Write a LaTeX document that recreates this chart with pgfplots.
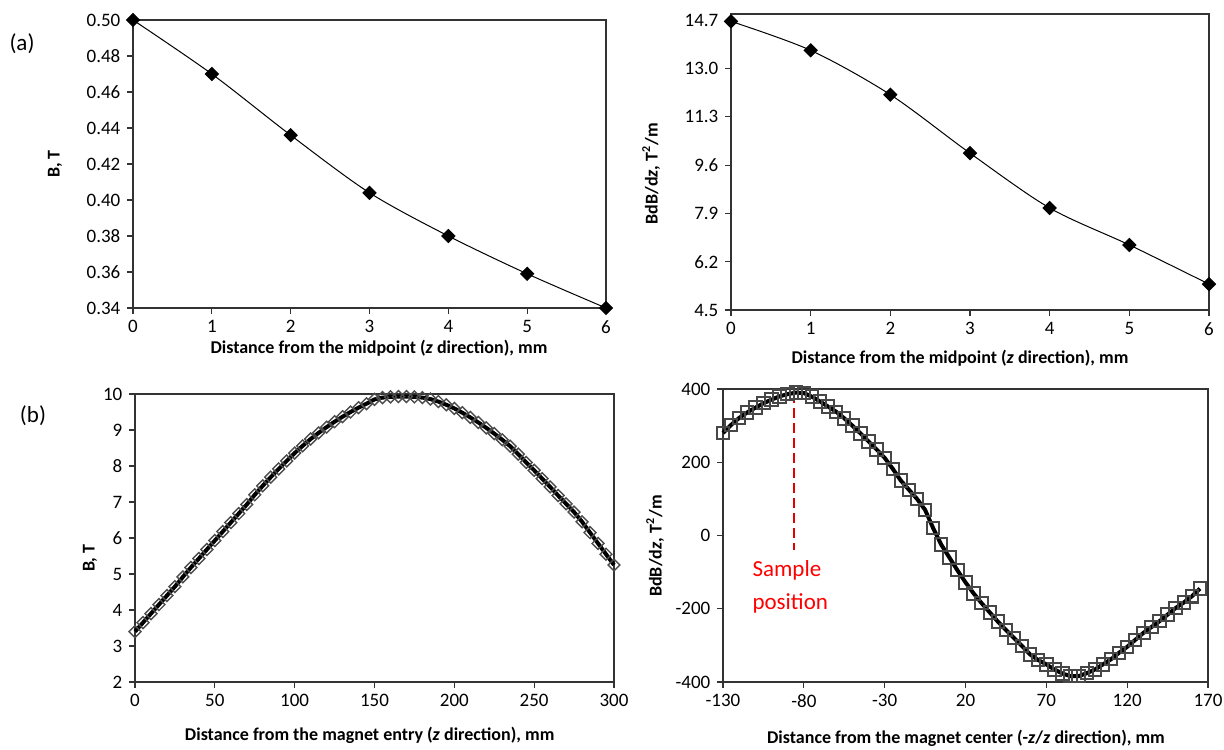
\documentclass[border=0pt]{standalone}
\usepackage{fontspec}
\setmainfont{Carlito}
\usepackage{pgfplots}
\pgfplotsset{compat=1.18}

\pgfplotsset{
  panel/.style={
    scale only axis, clip=false,
    axis line style={black!80, line width=0.6pt},
    tick align=outside, xtick pos=lower, ytick pos=left,
    major tick length=2.8pt,
    tick style={black!80, line width=0.6pt},
    ticklabel style={font=\fontsize{9.5}{11}\selectfont},
    label style={font=\bfseries\fontsize{9}{11}\selectfont},
    xlabel style={anchor=center}, ylabel style={anchor=center},
  },
  fmark/.style={black, line width=0.5pt, smooth, mark=square*, mark size=2.3pt,
    mark options={rotate=45, solid, fill=black}},
}

\begin{document}
\begin{tikzpicture}
\useasboundingbox (0,0) rectangle (612pt,374.5pt);

% (a) left: B vs distance from midpoint
\begin{axis}[panel, at={(66.5pt,220.5pt)}, anchor=south west,
  width=236.5pt, height=144pt,
  xmin=0, xmax=6, ymin=0.34, ymax=0.50,
  xtick={0,1,2,3,4,5,6},
  ytick={0.34,0.36,0.38,0.40,0.42,0.44,0.46,0.48,0.50},
  yticklabels={0.34,0.36,0.38,0.40,0.42,0.44,0.46,0.48,0.50},
  xticklabels={0,1,2,3,4,5,6},
  xlabel={Distance from the midpoint (\textit{z} direction), mm},
  ylabel={B, T},
  xlabel style={at={(axis description cs:0.52,-0.139)}},
  ylabel style={at={(axis description cs:-0.165,0.5)}}]
\addplot[fmark] coordinates {
  (0,0.500)(1,0.470)(2,0.436)(3,0.404)(4,0.380)(5,0.359)(6,0.340)};
\end{axis}

% (a) right: BdB/dz vs distance from midpoint
\begin{axis}[panel, at={(365.5pt,219.5pt)}, anchor=south west,
  width=239pt, height=148pt,
  xmin=0, xmax=6, ymin=4.5, ymax=14.92,
  xtick={0,1,2,3,4,5,6},
  xticklabels={0,1,2,3,4,5,6},
  ytick={4.5,6.2,7.9,9.6,11.3,13.0,14.7},
  yticklabels={4.5,6.2,7.9,9.6,11.3,13.0,14.7},
  xlabel={Distance from the midpoint (\textit{z} direction), mm},
  ylabel={BdB/d\textit{z}, T\textsuperscript{2}/m},
  xlabel style={at={(axis description cs:0.479,-0.162)}},
  ylabel style={at={(axis description cs:-0.167,0.46)}}]
\addplot[fmark] coordinates {
  (0,14.66)(1,13.64)(2,12.08)(3,10.02)(4,8.09)(5,6.79)(6,5.41)};
\end{axis}

% (b) left: B vs distance from magnet entry
\begin{axis}[panel, at={(67.5pt,33.5pt)}, anchor=south west,
  width=239.5pt, height=144pt,
  xmin=0, xmax=300, ymin=2, ymax=10,
  xtick={0,50,100,150,200,250,300},
  xticklabels={0,50,100,150,200,250,300},
  ytick={2,3,4,5,6,7,8,9,10},
  yticklabels={2,3,4,5,6,7,8,9,10},
  xlabel={Distance from the magnet entry (\textit{z} direction), mm},
  ylabel={B, T},
  xlabel style={at={(axis description cs:0.49,-0.184)}},
  ylabel style={at={(axis description cs:-0.094,0.43)}}]
\addplot[black, line width=2pt, mark=square, mark size=2.1pt,
  mark options={rotate=45, solid, draw=black!70, line width=0.7pt, fill=none}]
  coordinates {
  (0,3.40)(5,3.65)(10,3.90)(15,4.15)(20,4.40)(25,4.65)(30,4.92)(35,5.18)
  (40,5.43)(45,5.68)(50,5.93)(55,6.18)(60,6.43)(65,6.68)(70,6.93)(75,7.20)
  (80,7.45)(85,7.69)(90,7.92)(95,8.14)(100,8.36)(105,8.56)(110,8.75)
  (115,8.92)(120,9.08)(125,9.23)(130,9.37)(135,9.50)(140,9.62)(145,9.73)
  (150,9.85)(155,9.90)(160,9.92)(165,9.93)(170,9.93)(175,9.92)(180,9.90)
  (185,9.86)(190,9.79)(195,9.70)(200,9.60)(205,9.48)(210,9.35)(215,9.21)
  (220,9.06)(225,8.90)(230,8.73)(235,8.55)(240,8.33)(245,8.10)(250,7.88)
  (255,7.65)(260,7.42)(265,7.18)(270,6.95)(275,6.72)(280,6.45)(285,6.15)
  (290,5.85)(295,5.55)(300,5.25)};
\end{axis}

% (b) right: BdB/dz vs distance from magnet center
\begin{axis}[panel, at={(361.5pt,33.5pt)}, anchor=south west,
  width=242.5pt, height=146.5pt,
  xmin=-130, xmax=170, ymin=-400, ymax=400,
  xtick={-130,-80,-30,20,70,120,170},
  xticklabels={-130,-80,-30,20,70,120,170},
  ytick={-400,-200,0,200,400},
  yticklabels={-400,-200,0,200,400},
  xlabel={Distance from the magnet center (-\textit{z}/\textit{z} direction), mm},
  ylabel={BdB/d\textit{z}, T\textsuperscript{2}/m},
  xlabel style={at={(axis description cs:0.501,-0.191)}},
  ylabel style={at={(axis description cs:-0.14,0.464)}}]
\addplot[black, line width=2pt, mark=square, mark size=3.1pt,
  mark options={solid, draw=black!72, line width=1pt, fill=none}]
  coordinates {
  (-130,280)(-125,302)(-120,321)(-115,336)(-110,349)(-105,361)(-100,371)
  (-95,380)(-90,386)(-85,390)(-80,389)(-75,379)(-70,366)(-65,352)(-60,338)
  (-55,320)(-50,300)(-45,279)(-40,257)(-35,235)(-30,212)(-25,182)(-20,150)
  (-15,125)(-10,100)(-5,70)(0,20)(5,-25)(10,-60)(15,-95)(20,-128)(25,-158)
  (30,-185)(35,-210)(40,-235)(45,-258)(50,-280)(55,-302)(60,-325)(65,-340)
  (70,-352)(75,-366)(80,-377)(85,-384)(90,-384)(95,-376)(100,-366)
  (105,-352)(110,-338)(115,-320)(120,-304)(125,-285)(130,-266)(135,-250)
  (140,-234)(145,-216)(150,-198)(155,-183)(160,-166)(165,-145)};
\draw[red!90!black, line width=1pt, dash pattern=on 5pt off 2.5pt]
  (axis cs:-86,388) -- (axis cs:-86,-40);
\node[anchor=west, inner sep=0pt, align=left, text=red,
  font=\fontsize{11.5}{16.5}\selectfont] at (axis cs:-112,-139)
  {Sample\\position};
\end{axis}

\node[font=\fontsize{11.5}{14}\selectfont] at (11pt,352.5pt) {(a)};
\node[font=\fontsize{11.5}{14}\selectfont] at (16.5pt,166.5pt) {(b)};
\end{tikzpicture}
\end{document}
